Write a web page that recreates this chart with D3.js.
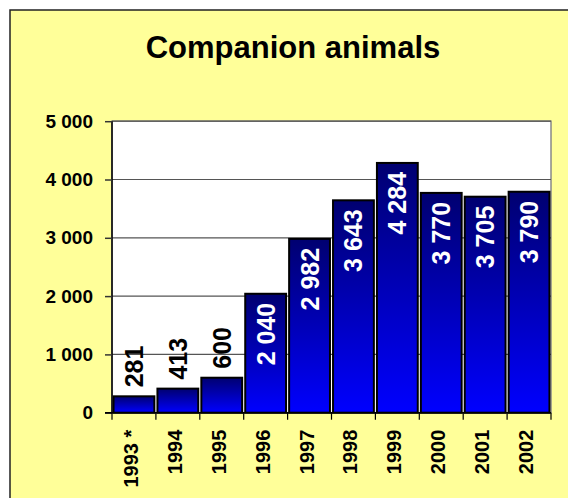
<!DOCTYPE html>
<html><head><meta charset="utf-8">
<script src="https://cdn.jsdelivr.net/npm/d3@7"></script>
<style>html,body{margin:0;padding:0;background:#fff;}svg{display:block;}</style>
</head><body>
<script>
const title = "Companion animals";
const categories = ["1993 *","1994","1995","1996","1997","1998","1999","2000","2001","2002"];
const values = [281,413,600,2040,2982,3643,4284,3770,3705,3790];
const valueLabels = ["281","413","600","2 040","2 982","3 643","4 284","3 770","3 705","3 790"];
const yTicks = [0,1000,2000,3000,4000,5000];
const yTickLabels = ["0","1 000","2 000","3 000","4 000","5 000"];

(function(){
const W = 568, H = 498;
const svg = d3.select("body").append("svg").attr("width", W).attr("height", H);
const font = "Liberation Sans, Arial, sans-serif";

svg.append("rect").attr("x", 10).attr("y", 10).attr("width", W + 10).attr("height", H + 10)
  .attr("fill", "#FFFF99").attr("stroke", "#222").attr("stroke-width", 1.5);

svg.append("text").attr("x", 293).attr("y", 58).attr("text-anchor", "middle")
  .attr("font-family", font).attr("font-weight", "bold").attr("font-size", 31).text(title);

const pLeft = 112, pRight = 551, pTop = 121.2, pBottom = 412.7;
const x = d3.scaleBand().domain(categories).range([pLeft, pRight]).paddingInner(0.07).paddingOuter(0.035);
const y = d3.scaleLinear().domain([0, 5000]).range([pBottom, pTop]);

const defs = svg.append("defs");
const grad = defs.append("linearGradient").attr("id", "barGrad").attr("x1", 0).attr("y1", 0).attr("x2", 0).attr("y2", 1);
grad.append("stop").attr("offset", "0%").attr("stop-color", "#000070");
grad.append("stop").attr("offset", "100%").attr("stop-color", "#0000FF");

svg.append("rect").attr("x", pLeft).attr("y", pTop).attr("width", pRight - pLeft).attr("height", pBottom - pTop)
  .attr("fill", "#fff").attr("stroke", "#888").attr("stroke-width", 1.5);

svg.append("g").selectAll("line").data(yTicks.slice(1)).join("line")
  .attr("x1", pLeft).attr("x2", pRight).attr("y1", d => y(d)).attr("y2", d => y(d))
  .attr("stroke", "#555").attr("stroke-width", 1.2);

svg.append("g").selectAll("rect").data(values).join("rect")
  .attr("x", (d, i) => x(categories[i])).attr("width", x.bandwidth())
  .attr("y", d => y(d)).attr("height", d => pBottom - y(d))
  .attr("fill", "url(#barGrad)").attr("stroke", "#000").attr("stroke-width", 2);

const yAxis = d3.axisLeft(y).tickValues(yTicks).tickSize(7).tickPadding(12)
  .tickFormat((d, i) => yTickLabels[i]);
const gy = svg.append("g").attr("transform", `translate(${pLeft},0)`).call(yAxis);
gy.select(".domain").attr("stroke", "#000").attr("stroke-width", 1.5).attr("d", `M0,${pTop}V${pBottom}`);
gy.selectAll(".tick line").attr("stroke", "#333").attr("stroke-width", 1.5);
gy.selectAll("text").attr("font-family", font).attr("font-weight", "bold").attr("font-size", 19).attr("fill", "#000");

const gx = svg.append("g").attr("transform", `translate(0,${pBottom})`);
gx.append("line").attr("x1", pLeft - 7).attr("x2", pRight).attr("y1", 0).attr("y2", 0).attr("stroke", "#000").attr("stroke-width", 1.5);
const bounds = d3.range(categories.length + 1).map(i => pLeft + (pRight - pLeft) * i / categories.length);
gx.selectAll(".xt").data(bounds).join("line").attr("class", "xt")
  .attr("x1", d => d).attr("x2", d => d).attr("y1", 0).attr("y2", 7).attr("stroke", "#000").attr("stroke-width", 1.2);
gx.selectAll(".xl").data(categories).join("text").attr("class", "xl")
  .attr("transform", d => `translate(${x(d) + x.bandwidth() / 2},${17}) rotate(-90)`)
  .attr("text-anchor", "end").attr("dy", "0.2em")
  .attr("font-family", font).attr("font-weight", "bold").attr("font-size", 20).text(d => d);

svg.append("g").selectAll("text").data(values).join("text")
  .attr("transform", (d, i) => `translate(${x(categories[i]) + x.bandwidth() / 2},${y(d) + (d >= 1000 ? 9 : -9)}) rotate(-90)`)
  .attr("text-anchor", d => d >= 1000 ? "end" : "start")
  .attr("dy", "0.36em")
  .attr("fill", d => d >= 1000 ? "#fff" : "#000")
  .attr("font-family", font).attr("font-weight", "bold").attr("font-size", 25)
  .text((d, i) => valueLabels[i]);
})();
</script>
</body></html>
